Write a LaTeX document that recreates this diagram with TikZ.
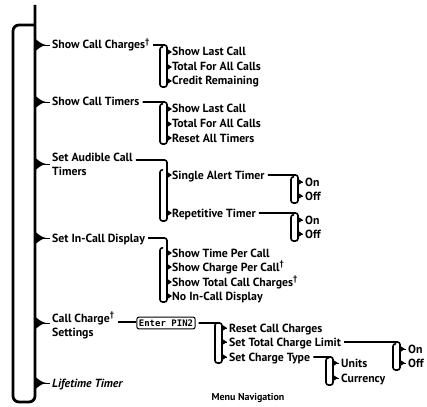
\documentclass[tikz,border=0pt]{standalone}
\usepackage{fontspec}
\setmainfont{PT Sans}
\newfontfamily\lcdFont{DejaVu Sans Mono Bold}
\usepackage{tikz}
\usetikzlibrary{positioning,arrows.meta}
\tikzset{
  menuText/.style={inner sep=0pt, font=\bfseries\fontsize{11.8}{14}\selectfont},
  menuItem/.style={menuText, anchor=west, text height=9pt, text depth=1pt},
  menuPair/.style={menuText, anchor=north west, align=left},
  trunk/.style={line width=2.8pt, rounded corners=6pt},
  branch/.style={line width=1.6pt, rounded corners=2.5pt},
  stem/.style={line width=0.7pt, shorten >=2pt},
  pinBox/.style={draw, rounded corners=2pt, line width=1pt, inner xsep=2pt, inner ysep=2.5pt, font=\lcdFont\fontsize{9}{10}\selectfont}
}

\begin{document}
\begin{tikzpicture}[x=1pt, y=-1pt]
  \useasboundingbox (0,0) rectangle (427,406);

  % trunk of the menu
  \draw[trunk] (35,5) -- (35,402) -- (13,402) -- (13,25) -- (35,25);
  \coordinate (t1) at (35,45);
  \coordinate (t2) at (35,102);
  \coordinate (t3) at (35,164);
  \coordinate (t4) at (35,238);
  \coordinate (t5) at (35,323);
  \coordinate (t6) at (35,383);
  \foreach \tp in {t1,t2,t3,t4,t5,t6}
    \fill[shift={(\tp)}] (0,-6.5) .. controls (3,-4) and (6,-1) .. (11,0) .. controls (6,1) and (3,4) .. (0,6.5) -- cycle;

  % first level
  \node[menuItem] (a1) at (52,45) {Show Call Charges\textsuperscript{†}};
  \node[menuItem] (a2) at (52,102) {Show Call Timers};
  \node[menuPair] (a3) at (52,153) {Set Audible Call\\Timers};
  \node[menuItem] (a4) at (52,238) {Set In-Call Display};
  \node[menuPair] (a5) at (52,312) {Call Charge\textsuperscript{†}\\Settings};
  \node[menuItem, font=\bfseries\itshape\fontsize{11.8}{13}\selectfont] (a6) at (52,383) {Lifetime Timer};

  \draw[stem] (t1) -- (a1.west);
  \draw[stem] (t2) -- (a2.west);
  \draw[stem] (t3) -- (t3 -| a3.west);
  \draw[stem] (t4) -- (a4.west);
  \draw[stem] (t5) -- (t5 -| a5.west);
  \draw[stem] (t6) -- (a6.west);

  % show call charges
  \node[menuItem] (c11) at (172,52) {Show Last Call};
  \node[menuItem] (c12) at (172,67) {Total For All Calls};
  \node[menuItem] (c13) at (172,81) {Credit Remaining};
  \coordinate (k1) at (167,87);
  \coordinate (k1l) at (160,87);
  \draw[branch] ([xshift=3pt]a1.east) -- (a1.east -| k1) -- (k1) -- (k1l) -- (k1l |- c11.north) -- ++(3,0);
  \foreach \n in {c11,c12,c13} {
    \fill[shift={(\n.west -| k1)}] (0,-3.2) -- (5,0) -- (0,3.2) -- cycle;
    \draw[stem] (\n.west -| k1) -- (\n.west);}

  % show call timers
  \node[menuItem] (c21) at (172,109) {Show Last Call};
  \node[menuItem] (c22) at (172,124) {Total For All Calls};
  \node[menuItem] (c23) at (172,138) {Reset All Timers};
  \coordinate (k2) at (167,144);
  \coordinate (k2l) at (160,144);
  \draw[branch] ([xshift=3pt]a2.east) -- (a2.east -| k2) -- (k2) -- (k2l) -- (k2l |- c21.north) -- ++(3,0);
  \foreach \n in {c21,c22,c23} {
    \fill[shift={(\n.west -| k2)}] (0,-3.2) -- (5,0) -- (0,3.2) -- cycle;
    \draw[stem] (\n.west -| k2) -- (\n.west);}

  % audible call timers
  \node[menuItem] (c31) at (172,175) {Single Alert Timer};
  \node[menuItem] (c32) at (172,213) {Repetitive Timer};
  \coordinate (k3) at (167,221);
  \coordinate (k3l) at (160,221);
  \coordinate (a3out) at ([xshift=3pt, yshift=-7pt]a3.north east);
  \draw[branch] (a3out) -- (a3out -| k3) -- (k3) -- (k3l) -- (k3l |- c31.north) -- ++(3,0);
  \foreach \n in {c31,c32} {
    \fill[shift={(\n.west -| k3)}] (0,-3.2) -- (5,0) -- (0,3.2) -- cycle;
    \draw[stem] (\n.west -| k3) -- (\n.west);}

  \node[menuItem] (d11) at (305,182) {On};
  \node[menuItem] (d12) at (305,196) {Off};
  \coordinate (kd1) at (298,203);
  \coordinate (kd1l) at (291,203);
  \draw[branch] ([xshift=3pt]c31.east) -- (c31.east -| kd1) -- (kd1) -- (kd1l) -- (kd1l |- d11.north) -- ++(3,0);
  \foreach \n in {d11,d12} {
    \fill[shift={(\n.west -| kd1)}] (0,-3.2) -- (5,0) -- (0,3.2) -- cycle;
    \draw[stem] (\n.west -| kd1) -- (\n.west);}

  \node[menuItem] (d21) at (305,220) {On};
  \node[menuItem] (d22) at (305,234) {Off};
  \coordinate (kd2) at (298,241);
  \coordinate (kd2l) at (291,241);
  \draw[branch] ([xshift=3pt]c32.east) -- (c32.east -| kd2) -- (kd2) -- (kd2l) -- (kd2l |- d21.north) -- ++(3,0);
  \foreach \n in {d21,d22} {
    \fill[shift={(\n.west -| kd2)}] (0,-3.2) -- (5,0) -- (0,3.2) -- cycle;
    \draw[stem] (\n.west -| kd2) -- (\n.west);}

  % in-call display
  \node[menuItem] (c41) at (172,253) {Show Time Per Call};
  \node[menuItem] (c42) at (172,267) {Show Charge Per Call\textsuperscript{†}};
  \node[menuItem] (c43) at (172,282) {Show Total Call Charges\textsuperscript{†}};
  \node[menuItem] (c44) at (172,296) {No In-Call Display};
  \coordinate (k4) at (167,302);
  \coordinate (k4l) at (160,302);
  \draw[branch] ([xshift=3pt]a4.east) -- (a4.east -| k4) -- (k4) -- (k4l) -- (k4l |- c41.north) -- ++(3,0);
  \foreach \n in {c41,c42,c43,c44} {
    \fill[shift={(\n.west -| k4)}] (0,-3.2) -- (5,0) -- (0,3.2) -- cycle;
    \draw[stem] (\n.west -| k4) -- (\n.west);}

  % call charge settings
  \node[pinBox] (pin) at (166,323) {Enter PIN2};
  \coordinate (a5out) at ([xshift=3pt, yshift=-10pt]a5.north east);
  \draw[branch] (a5out) -- (a5out -| pin.west);
  \node[menuItem] (c51) at (229,328) {Reset Call Charges};
  \node[menuItem] (c52) at (229,342) {Set Total Charge Limit};
  \node[menuItem] (c53) at (229,357) {Set Charge Type};
  \coordinate (k5) at (222,363);
  \coordinate (k5l) at (215,363);
  \draw[branch] ([xshift=3pt]pin.east) -- (pin.east -| k5) -- (k5) -- (k5l) -- (k5l |- c51.north) -- ++(3,0);
  \foreach \n in {c51,c52,c53} {
    \fill[shift={(\n.west -| k5)}] (0,-3.2) -- (5,0) -- (0,3.2) -- cycle;
    \draw[stem] (\n.west -| k5) -- (\n.west);}

  \node[menuItem] (e1) at (408,349) {On};
  \node[menuItem] (e2) at (408,363) {Off};
  \coordinate (ke) at (400,370);
  \coordinate (kel) at (393,370);
  \draw[branch] ([xshift=3pt]c52.east) -- (c52.east -| ke) -- (ke) -- (kel) -- (kel |- e1.north) -- ++(3,0);
  \foreach \n in {e1,e2} {
    \fill[shift={(\n.west -| ke)}] (0,-3.2) -- (5,0) -- (0,3.2) -- cycle;
    \draw[stem] (\n.west -| ke) -- (\n.west);}

  \node[menuItem] (f1) at (341,363) {Units};
  \node[menuItem] (f2) at (341,378) {Currency};
  \coordinate (kf) at (333,385);
  \coordinate (kfl) at (326,385);
  \draw[branch] ([xshift=3pt]c53.east) -- (c53.east -| kf) -- (kf) -- (kfl) -- (kfl |- f1.north) -- ++(3,0);
  \foreach \n in {f1,f2} {
    \fill[shift={(\n.west -| kf)}] (0,-3.2) -- (5,0) -- (0,3.2) -- cycle;
    \draw[stem] (\n.west -| kf) -- (\n.west);}

  \node[menuText, font=\bfseries\fontsize{10}{12}\selectfont] (caption) at (248,398) {Menu Navigation};
\end{tikzpicture}
\end{document}
